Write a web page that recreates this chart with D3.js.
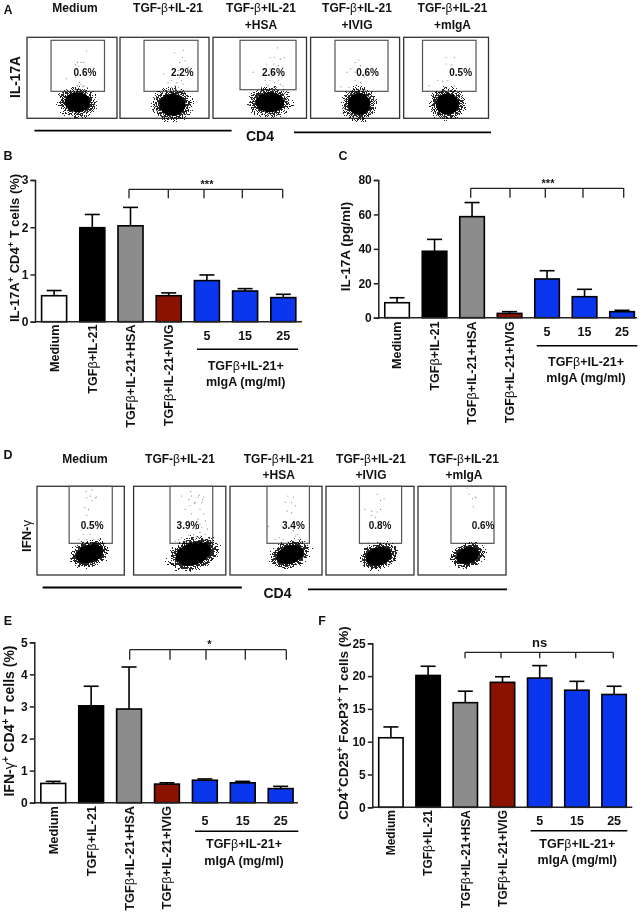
<!DOCTYPE html>
<html>
<head>
<meta charset="utf-8">
<script src="https://cdn.jsdelivr.net/npm/d3@7/dist/d3.min.js"></script>
<style>
html,body{margin:0;padding:0;background:#fff;}
svg{display:block;filter:blur(0.3px);}
text{font-family:"Liberation Sans",Arial,sans-serif;font-weight:bold;fill:#111;}
</style>
</head>
<body>
<svg id="fig" width="642" height="913"></svg>
<script>
// ---------- bar chart data ----------
const categories = ["Medium","TGFβ+IL-21","TGFβ+IL-21+HSA","TGFβ+IL-21+IVIG","5","15","25"];
const barColors = ["#ffffff","#000000","#8c8c8c","#8b1100","#0a36ee","#0a36ee","#0a36ee"];
const doseTitle = ["TGFβ+IL-21+","mIgA (mg/ml)"];

const valuesB = [0.55,1.99,2.03,0.55,0.87,0.65,0.51];
const upperB  = [0.66,2.27,2.42,0.61,0.99,0.70,0.58];
const valuesC = [8.7,38.6,58.7,2.5,22.5,12.2,3.5];
const upperC  = [11.6,45.5,66.9,3.5,27.3,16.5,4.3];
const valuesE = [0.60,3.02,2.92,0.58,0.70,0.62,0.44];
const upperE  = [0.665,3.63,4.23,0.62,0.74,0.665,0.51];
const valuesF = [10.6,20.1,15.95,19.05,19.7,17.85,17.2];
const upperF  = [12.25,21.5,17.7,19.9,21.6,19.2,18.45];

const ticksB = [0,1,2,3];
const ticksC = [0,20,40,60,80];
const ticksE = [0,1,2,3,4,5];
const ticksF = [0,5,10,15,20,25];

// ---------- flow cytometry data (axes run 0–100 across each plot) ----------
const flowTitles = [["Medium"],["TGF-β+IL-21"],["TGF-β+IL-21","+HSA"],["TGF-β+IL-21","+IVIG"],["TGF-β+IL-21","+mIgA"]];
const pctA = ["0.6%","2.2%","2.6%","0.6%","0.5%"];
const pctD = ["0.5%","3.9%","3.4%","0.8%","0.6%"];
const gatesA = [[26.7,86.1,33.3],[27,87.6,33.3],[28.9,88.8,35.3],[27.4,87,33.3],[22.2,85.3,33.3]];
const gatesD = [[36.8,86.2,35.7],[39.5,85.8,35.7],[40.2,86.3,35.7],[38,85.9,35.7],[37.5,86.4,35.7]];
const cloudsA = [[55.9,19.8,14.1,12.3],[58.8,16.8,14.6,13.6],[61,19.8,15,12.3],[54.4,17.7,12.4,13.6],[51.5,17.7,13.6,13]];
const cloudsD = [[60.1,23.9,16,10],[64.8,23.9,19.5,12.4],[65.2,23.1,15.2,10.1],[59.9,21.2,14.8,10],[56.5,21.9,13.6,9]];
const pctPosA = [[64.4,57],[70,57],[64.6,57],[64,57],[67.2,57]];
const pctPosD = [[63.2,56],[59,56],[68.9,56],[61.4,56],[73.9,56]];
const eventsA = [
 [[66,83],[56,69],[60,69],[63,69],[54,66],[57,64],[44,49],[54,51],[60,42],[56,40],[62,39],[58,44],[63,40],[52,38],[67,38],[59,36],[55,35],[64,35]],
 [[71,84],[61,81],[70,75],[73,71],[67,69],[49,55],[60,53],[66,59],[77,63],[58,47],[64,44],[69,47],[62,40],[66,38],[71,42],[58,38],[67,51],[54,44],[60,57],[73,53],[63,36],[68,35],[60,35],[56,34]],
 [[69,87],[61,75],[66,75],[72,73],[76,75],[57,67],[65,67],[70,65],[75,63],[61,61],[43,57],[57,53],[65,55],[70,55],[74,51],[56,47],[61,47],[66,44],[72,42],[59,40],[65,38],[52,38],[68,38],[75,40],[49,36],[63,51],[57,42],[70,47],[62,36],[67,36],[58,34],[72,35]],
 [[54,72],[50,69],[56,65],[45,61],[41,57],[50,57],[54,53],[60,51],[64,53],[50,47],[56,44],[34,39],[43,38],[58,34],[62,35]],
 [[50,75],[60,75],[50,67],[56,66],[58,57],[40,47],[46,46],[52,47],[30,40],[48,38],[54,37],[60,40]]
];
const eventsD = [
 [[61,89],[57,87],[67,87],[63,84],[55,76],[59,74],[57,67],[53,46],[61,46],[48,40],[57,40],[70,40],[65,40],[63,96],[56,94],[68,88]],
 [[52,89],[63,89],[70,88],[76,88],[67,82],[74,82],[61,78],[56,74],[72,74],[76,69],[63,69],[49,57],[78,61],[70,63],[74,54],[80,52],[67,52],[72,48],[78,46],[60,45],[65,46],[52,42],[49,40],[70,42],[76,40],[81,42],[67,40],[61,38],[56,38],[72,57],[45,38],[85,38],[62,94],[71,90],[75,85],[60,85],[66,81],[73,44],[68,43],[75,37],[64,36],[70,36]],
 [[63,89],[69,88],[60,82],[67,82],[71,78],[62,72],[67,70],[42,55],[69,50],[76,42],[71,44],[73,46],[58,40],[63,38],[74,40],[54,42],[78,38],[49,40],[72,37],[70,41]],
 [[58,91],[66,86],[62,84],[44,74],[52,72],[58,71],[62,74],[52,67],[56,65],[48,37],[62,37]],
 [[58,91],[66,87],[62,86],[63,77],[56,98],[65,88]]
];

// ---------- page geometry ----------
const svg = d3.select("#fig");

function rich(sel, str){
  sel.text(null);
  let pending = 0;
  str.split(/(β|γ|\^\+)/).filter(s => s !== "").forEach(tok => {
    const t = sel.append("tspan");
    if (tok === "^+") {
      t.text("+").attr("font-size","0.72em").attr("dy", (pending - 5) + "px");
      pending = 5;
    } else {
      t.text(tok);
      if (pending) { t.attr("dy", pending + "px"); pending = 0; }
      if (tok === "β" || tok === "γ") t.style("font-weight","normal");
    }
  });
}

function label(x, y, str, size, opts = {}){
  const t = svg.append("text")
    .attr("text-anchor", opts.anchor || "middle")
    .attr("font-size", size)
    .attr("dy", "0.35em")
    .attr("transform", `translate(${x},${y})` + (opts.rotate ? ` rotate(${opts.rotate})` : ""));
  rich(t, str);
  return t;
}

// grain filter for the dense clouds: fine noise multiplied by a soft falloff, then thresholded
const defs = svg.append("defs");
const grain = defs.append("filter").attr("id","grain")
  .attr("x","-10%").attr("y","-10%").attr("width","120%").attr("height","120%")
  .attr("color-interpolation-filters","sRGB");
grain.append("feTurbulence").attr("type","fractalNoise").attr("baseFrequency",1.1)
  .attr("numOctaves",1).attr("seed",4).attr("result","n");
grain.append("feColorMatrix").attr("in","n").attr("type","matrix")
  .attr("values","0 0 0 0 0  0 0 0 0 0  0 0 0 0 0  1 0 0 0 0").attr("result","na");
grain.append("feComposite").attr("in","SourceGraphic").attr("in2","na")
  .attr("operator","arithmetic").attr("k1",1).attr("k2",0).attr("k3",0).attr("k4",0).attr("result","m");
grain.append("feComponentTransfer").attr("in","m")
  .append("feFuncA").attr("type","discrete").attr("tableValues","0 0 0 0 0.85 0.85 0.85 0.85 0.85 0.85");
const halo = defs.append("radialGradient").attr("id","halo");
halo.append("stop").attr("offset","0").attr("stop-color","#000").attr("stop-opacity",1);
halo.append("stop").attr("offset","0.55").attr("stop-color","#000").attr("stop-opacity",0.95);
halo.append("stop").attr("offset","1").attr("stop-color","#000").attr("stop-opacity",0.58);

function flowPanel(frames, top, bottom, gates, clouds, events, pcts, pctPos, tilt){
  frames.forEach((f,i) => {
    const px = d3.scaleLinear().domain([0,100]).range(f);
    const py = d3.scaleLinear().domain([0,100]).range([bottom, top]);
    const g = svg.append("g");
    g.append("rect").attr("x",f[0]).attr("y",top).attr("width",f[1]-f[0]).attr("height",bottom-top)
      .attr("fill","#fff").attr("stroke","#333").attr("stroke-width",1.3);
    const [gx0,gx1,gy] = gates[i];
    const gateTop = top === 37.3 ? 96.3 : 100;
    g.append("rect").attr("x",px(gx0)).attr("y",py(gateTop)).attr("width",px(gx1)-px(gx0)).attr("height",py(gy)-py(gateTop))
      .attr("fill","none").attr("stroke","#555").attr("stroke-width",1.2);
    const [cx,cy,rx,ry] = clouds[i];
    const w = px(rx)-px(0), h = py(0)-py(ry);
    const tr = `rotate(${tilt} ${px(cx)} ${py(cy)})`;
    g.append("ellipse").attr("cx",px(cx)).attr("cy",py(cy)).attr("rx",w*1.75).attr("ry",h*1.75)
      .attr("fill","url(#halo)").attr("filter","url(#grain)").attr("transform",tr);
    g.append("ellipse").attr("cx",px(cx)).attr("cy",py(cy)).attr("rx",w).attr("ry",h)
      .attr("fill","#000").attr("transform",tr);
    g.selectAll("circle.ev").data(events[i]).join("circle").attr("class","ev")
      .attr("cx",d=>px(d[0])).attr("cy",d=>py(d[1])).attr("r",0.55).attr("fill","#777");
    g.append("text").attr("x",px(pctPos[i][0])).attr("y",py(pctPos[i][1])).attr("dy","0.35em")
      .attr("text-anchor","middle").attr("font-size",10).text(pcts[i]);
  });
}

function hline(x0,x1,y,w){
  svg.append("line").attr("x1",x0).attr("x2",x1).attr("y1",y).attr("y2",y)
    .attr("stroke","#000").attr("stroke-width",w);
}

function barPanel(cfg){
  const {values, upper, ticks, maxY, x0, xEnd, step, y0, yTop} = cfg;
  const x = d3.scaleBand().domain(categories).range([x0, x0 + step*categories.length])
    .paddingInner(0.345).paddingOuter(0.1725);
  const y = d3.scaleLinear().domain([0,maxY]).range([y0,yTop]);
  const g = svg.append("g");
  const bw = x.bandwidth();
  // error bars (upper whisker only)
  categories.forEach((c,i) => {
    const cx = x(c)+bw/2;
    g.append("line").attr("x1",cx).attr("x2",cx).attr("y1",y(values[i])).attr("y2",y(upper[i]))
      .attr("stroke","#000").attr("stroke-width",1.6);
    g.append("line").attr("x1",cx-7.5).attr("x2",cx+7.5).attr("y1",y(upper[i])).attr("y2",y(upper[i]))
      .attr("stroke","#000").attr("stroke-width",1.6);
  });
  g.selectAll("rect.bar").data(categories).join("rect").attr("class","bar")
    .attr("x",c=>x(c)).attr("width",bw)
    .attr("y",(c,i)=>y(values[i])).attr("height",(c,i)=>y0-y(values[i]))
    .attr("fill",(c,i)=>barColors[i]).attr("stroke","#000").attr("stroke-width",1.6);
  // y axis
  const ya = svg.append("g").attr("transform",`translate(${x0},0)`)
    .call(d3.axisLeft(y).tickValues(ticks).tickFormat(d3.format("d")).tickSize(4.5).tickPadding(2));
  ya.selectAll("path,line").attr("stroke","#222").attr("stroke-width",1.5);
  ya.selectAll("text").attr("font-size",12).attr("fill","#111");
  // x axis line
  svg.append("line").attr("x1",x0).attr("x2",xEnd).attr("y1",y0).attr("y2",y0)
    .attr("stroke","#222").attr("stroke-width",1.5);
  // category labels
  categories.forEach((c,i) => {
    const cx = x(c)+bw/2;
    if (i < 4) label(cx + cfg.labelShift, cfg.labelTop, c, cfg.labelSize, {anchor:"end", rotate:-90});
    else label(cx + cfg.doseShift, cfg.doseY, c, 12.5);
  });
  hline(cfg.doseLine[0], cfg.doseLine[1], cfg.doseLine[2], 1.4);
  doseTitle.forEach((s,i) => label(cfg.doseTitleX, cfg.doseTitleY[i], s, 12.5));
  // significance bracket
  const b = cfg.bracket;
  const p = d3.path();
  b.xs.forEach(xx => { p.moveTo(xx,b.y); p.lineTo(xx,b.y2); });
  p.moveTo(b.xs[0],b.y); p.lineTo(b.xs[b.xs.length-1],b.y);
  svg.append("path").attr("d",p.toString()).attr("fill","none").attr("stroke","#222").attr("stroke-width",1.3);
  label(b.labelX, b.labelY, b.text, b.size);
  // y title
  label(cfg.titleX, cfg.titleY, cfg.title, cfg.titleSize, {rotate:-90});
}

// ---------- panel A ----------
label(8,10,"A",12);
flowTitles.forEach((t,i) => t.forEach((s,j) => label([75,168,261,357,452.5][i], [8,25][j], s, 12)));
flowPanel([[27,117],[120,209],[213,306.5],[310.6,399.6],[403.7,488.5]],37.3,118.3,gatesA,cloudsA,eventsA,pctA,pctPosA,0);
label(15,77,"IL-17A",13.8,{rotate:-90});
hline(34.4,231.6,130.7,1.8); hline(294,491,132.3,1.8);
label(260,136,"CD4",14);

// ---------- panel B ----------
label(8,156,"B",12.5);
barPanel({values:valuesB,upper:upperB,ticks:ticksB,maxY:3,x0:35,xEnd:302,step:38.2,y0:321.7,yTop:180,
  labelTop:324.5,labelShift:0,labelSize:12.6,doseY:336,doseShift:0,doseLine:[197,298,349.3],doseTitleX:245.7,doseTitleY:[366,382],
  bracket:{xs:[129,168.3,204,242.3,282.7],y:189.3,y2:198.3,labelX:207,labelY:184,text:"***",size:11},
  title:"IL-17A^+ CD4^+ T cells (%)",titleX:14,titleY:248,titleSize:13});

// ---------- panel C ----------
label(343,156,"C",12.5);
barPanel({values:valuesC,upper:upperC,ticks:ticksC,maxY:80,x0:378.3,xEnd:637,step:37.5,y0:317.7,yTop:180,
  labelTop:321.5,labelShift:0,labelSize:12.6,doseY:332,doseShift:0,doseLine:[536.7,637.3,345.7],doseTitleX:586,doseTitleY:[361.7,377.7],
  bracket:{xs:[470.7,510,545.3,583,623.7],y:188.3,y2:197.7,labelX:548,labelY:183,text:"***",size:11},
  title:"IL-17A (pg/ml)",titleX:345,titleY:246.5,titleSize:13.5});

// ---------- panel D ----------
label(8,455,"D",12.5);
flowTitles.forEach((t,i) => t.forEach((s,j) => label([85,180,278.7,371,464][i], [458.3,475][j], s, 12)));
flowPanel([[37,124.3],[133.6,225.8],[230,322],[326,414],[418,506]],486.3,575,gatesD,cloudsD,eventsD,pctD,pctPosD,-18);
label(26,536,"IFN-γ",13,{rotate:-90});
hline(42.6,241.8,587.5,1.8); hline(308,507,589.3,1.8);
label(277.5,593.5,"CD4",14);

// ---------- panel E ----------
label(8,621,"E",12.5);
barPanel({values:valuesE,upper:upperE,ticks:ticksE,maxY:5,x0:34.3,xEnd:298,step:37.9,y0:802.7,yTop:642.3,
  labelTop:806,labelShift:0,labelSize:12.8,doseY:820.7,doseShift:0,doseLine:[195,298.3,831.3],doseTitleX:244,doseTitleY:[844,860.7],
  bracket:{xs:[129.7,170,206,245.3,286.3],y:649.7,y2:659.7,labelX:209.3,labelY:644.5,text:"*",size:11},
  title:"IFN-γ^+ CD4^+ T cells (%)",titleX:9.5,titleY:721,titleSize:14});

// ---------- panel F ----------
label(322,621,"F",12.5);
barPanel({values:valuesF,upper:upperF,ticks:ticksF,maxY:25,x0:372.3,xEnd:632.3,step:37.2,y0:807.3,yTop:643.3,
  labelTop:810,labelShift:0,labelSize:12,doseY:820.7,doseShift:0,doseLine:[530.7,627.3,830.7],doseTitleX:577.3,doseTitleY:[844,859.3],
  bracket:{xs:[465,501,539.7,575.7,613.3],y:652.3,y2:658.3,labelX:539.7,labelY:642,text:"ns",size:13},
  title:"CD4^+CD25^+ FoxP3^+ T cells (%)",titleX:343,titleY:723,titleSize:13.5});
</script>
</body>
</html>
